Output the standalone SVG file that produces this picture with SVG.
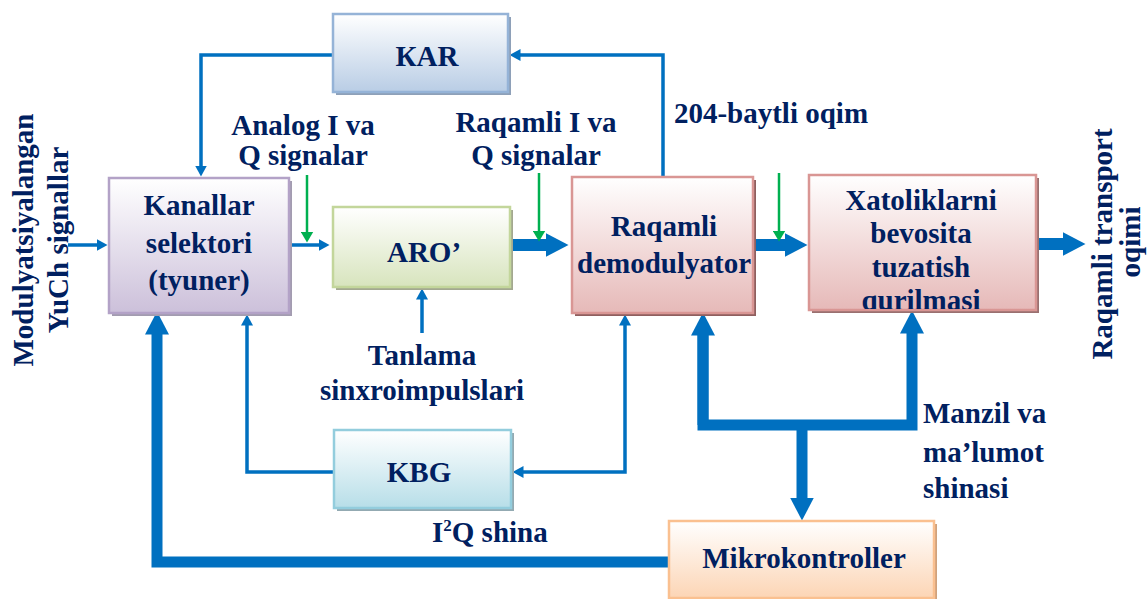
<svg xmlns="http://www.w3.org/2000/svg" width="1147" height="599" viewBox="0 0 1147 599">
<style>
text{font-family:"Liberation Serif","Times New Roman",serif;font-weight:bold;fill:#002060;font-size:29px}
.c{text-anchor:middle}
.lb{font-size:29px}
.thin{fill:none;stroke:#0070c0;stroke-width:3.5}
.grn{fill:none;stroke:#00b050;stroke-width:2.5}
.thick{fill:none;stroke:#0070c0;stroke-width:12}
.bus{fill:none;stroke:#0070c0;stroke-width:11}
</style>
<defs>
<linearGradient id="gKar" x1="0" y1="0" x2="0" y2="1"><stop offset="0" stop-color="#ffffff"/><stop offset="1" stop-color="#b9cde5"/></linearGradient>
<linearGradient id="gKan" x1="0" y1="0" x2="0" y2="1"><stop offset="0" stop-color="#ffffff"/><stop offset="1" stop-color="#ccc0da"/></linearGradient>
<linearGradient id="gAro" x1="0" y1="0" x2="0" y2="1"><stop offset="0" stop-color="#ffffff"/><stop offset="1" stop-color="#d7e4bd"/></linearGradient>
<linearGradient id="gRed" x1="0" y1="0" x2="0" y2="1"><stop offset="0" stop-color="#ffffff"/><stop offset="1" stop-color="#e6b9b8"/></linearGradient>
<linearGradient id="gKbg" x1="0" y1="0" x2="0" y2="1"><stop offset="0" stop-color="#ffffff"/><stop offset="1" stop-color="#b7dee8"/></linearGradient>
<linearGradient id="gMik" x1="0" y1="0" x2="0" y2="1"><stop offset="0" stop-color="#ffffff"/><stop offset="1" stop-color="#fcd5b5"/></linearGradient>
<marker id="ah" markerUnits="userSpaceOnUse" markerWidth="12" markerHeight="12" refX="0.5" refY="6" orient="auto-start-reverse"><path d="M0,0 L11,6 L0,12 z" fill="#0070c0"/></marker>
<marker id="ahg" markerUnits="userSpaceOnUse" markerWidth="12" markerHeight="13" refX="0.5" refY="6.5" orient="auto"><path d="M0,0 L11,6.5 L0,13 z" fill="#00b050"/></marker>
<marker id="AH" markerUnits="userSpaceOnUse" markerWidth="24" markerHeight="24" refX="0.5" refY="12" orient="auto"><path d="M0,0 L23,12 L0,24 z" fill="#0070c0"/></marker>
<clipPath id="clipX"><rect x="809" y="175" width="227" height="134"/></clipPath>
</defs>

<g id="connectors">
<path class="thin" d="M333,55 H201 V166" marker-end="url(#ah)"/>
<path class="thin" d="M663,177 V55 H520" marker-end="url(#ah)"/>
<path class="thin" d="M68,245 H97" marker-end="url(#ah)"/>
<path class="thin" d="M289,245 H319" marker-end="url(#ah)"/>
<path class="thin" d="M422,333 V299" marker-end="url(#ah)"/>
<path class="thin" d="M334,472 H247 V325" marker-end="url(#ah)"/>
<path class="thin" d="M523,472 H625 V325" marker-start="url(#ah)" marker-end="url(#ah)"/>
<path class="thick" d="M510,245 H546" marker-end="url(#AH)"/>
<path class="thick" d="M753,245 H785" marker-end="url(#AH)"/>
<path class="thick" d="M1036,244 H1063" marker-end="url(#AH)"/>
<path class="bus" d="M669,562 H157 V334" marker-end="url(#AH)"/>
<path class="bus" d="M703,335 V425 H912 V333" marker-end="url(#AH)"/>
<path class="bus" d="M703,425 V335" marker-end="url(#AH)"/>
<path class="bus" d="M802,425 V498" marker-end="url(#AH)"/>
<path class="grn" d="M307,175 V232" marker-end="url(#ahg)"/>
<path class="grn" d="M539,173 V231" marker-end="url(#ahg)"/>
<path class="grn" d="M779,173 V231" marker-end="url(#ahg)"/>
</g>

<g id="kar">
<rect x="336" y="17" width="175" height="78" fill="#8ea0b8"/>
<rect x="333" y="14" width="175" height="78" fill="url(#gKar)" stroke="#95b3d7" stroke-width="2.5"/>
<text x="427" y="66" class="c">КAR</text>
</g>

<g id="kanallar">
<rect x="112" y="181" width="180" height="135" fill="#a39cb0"/>
<rect x="109" y="178" width="180" height="135" fill="url(#gKan)" stroke="#b3a2c7" stroke-width="2.5"/>
<text x="199" y="215" class="c">Kanallar</text>
<text x="199" y="253" class="c">selektori</text>
<text x="199" y="290" class="c">(tyuner)</text>
</g>

<g id="aro">
<rect x="336" y="210" width="177" height="80" fill="#a3a890"/>
<rect x="333" y="207" width="177" height="80" fill="url(#gAro)" stroke="#c3d69b" stroke-width="2.5"/>
<text x="424" y="262" class="c">ARO’</text>
</g>

<g id="demod">
<rect x="575" y="180" width="181" height="136" fill="#8f5f5f"/>
<rect x="572" y="177" width="181" height="136" fill="url(#gRed)" stroke="#d99694" stroke-width="2.5"/>
<text x="664" y="236" class="c">Raqamli</text>
<text x="664" y="273" class="c">demodulyator</text>
</g>

<g id="xatolik">
<rect x="812" y="178" width="227" height="135" fill="#9a7070"/>
<rect x="809" y="175" width="227" height="135" fill="url(#gRed)" stroke="#d99694" stroke-width="2.5"/>
<g clip-path="url(#clipX)">
<text x="921" y="210" class="c">Xatoliklarni</text>
<text x="921" y="243" class="c">bevosita</text>
<text x="921" y="277" class="c">tuzatish</text>
<text x="921" y="310" class="c">qurilmasi</text>
</g>
</g>

<g id="kbg">
<rect x="337" y="433" width="177" height="78" fill="#93aab2"/>
<rect x="334" y="430" width="177" height="78" fill="url(#gKbg)" stroke="#93cddd" stroke-width="2.5"/>
<text x="419" y="482" class="c">KBG</text>
</g>

<g id="mikro">
<rect x="672" y="524" width="265" height="78" fill="#d0a27c"/>
<rect x="669" y="521" width="265" height="77" fill="url(#gMik)" stroke="#fac090" stroke-width="2.5"/>
<text x="804" y="568" class="c">Mikrokontroller</text>
</g>

<g id="labels">
<text x="303" y="135" class="c lb">Analog I  va</text>
<text x="303" y="165" class="c lb">Q signalar</text>
<text x="536" y="132" class="c lb">Raqamli I  va</text>
<text x="536" y="165" class="c lb">Q signalar</text>
<text x="771" y="123" class="c lb">204-baytli oqim</text>
<text x="422" y="365" class="c lb">Tanlama</text>
<text x="422" y="400" class="c lb">sinxroimpulslari</text>
<text x="432" y="542" class="lb">I<tspan font-size="17" dy="-11">2</tspan><tspan dy="11">Q shina</tspan></text>
<text x="923" y="423" class="lb">Manzil va</text>
<text x="923" y="462" class="lb">ma’lumot</text>
<text x="923" y="498" class="lb">shinasi</text>
<text transform="translate(33,240) rotate(-90)" class="c">Modulyatsiyalangan</text>
<text transform="translate(68,240) rotate(-90)" class="c">YuCh signallar</text>
<text transform="translate(1112,244) rotate(-90)" class="c">Raqamli transport</text>
<text transform="translate(1140,242) rotate(-90)" class="c">oqimi</text>
</g>
</svg>
